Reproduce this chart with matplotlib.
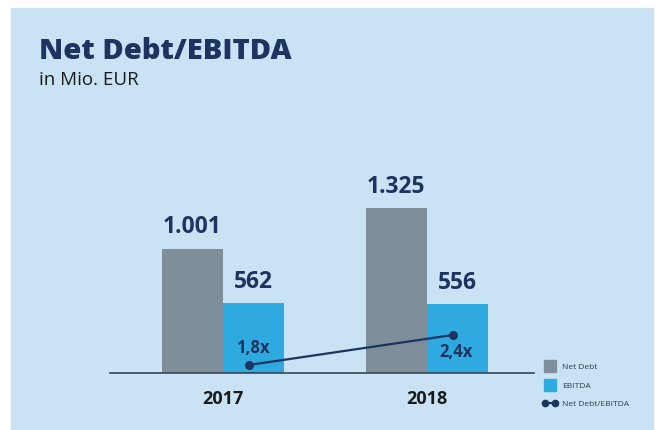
import matplotlib.pyplot as plt
from matplotlib.patches import Rectangle
from matplotlib.lines import Line2D
from matplotlib.legend_handler import HandlerLine2D
import numpy as np

plt.rcParams['font.family'] = ['Open Sans', 'DejaVu Sans']

years = ['2017', '2018']
net_debt = [1001, 1325]
ebitda = [562, 556]
ratio = [1.8, 2.4]
net_debt_labels = ['1.001', '1.325']
ebitda_labels = ['562', '556']
ratio_labels = ['1,8x', '2,4x']

c_bg = '#c9e3f4'
c_debt = '#7f8e9b'
c_ebitda = '#2eaae1'
c_navy = '#1d3461'

W, H = 659, 430
fig = plt.figure(figsize=(W / 100, H / 100), dpi=100)
fig.patch.set_facecolor('white')
fig.patches.append(Rectangle((11 / W, 0), (653 - 11) / W, (H - 8) / H,
                             transform=fig.transFigure, color=c_bg, zorder=-1))

fig.text(39 / W, 1 - 59 / H, 'Net Debt/EBITDA', fontsize=21, fontweight=800,
         color=c_navy, va='baseline', ha='left')
fig.text(39 / W, 1 - 85 / H, 'in Mio. EUR', fontsize=13.5, color='#1a1a1a',
         va='baseline', ha='left')

# axes placed so baseline sits at y=373 px, x from 110 to 534 px
ax_h = 224
ax = fig.add_axes([110 / W, (H - 373) / H, (534 - 110) / W, ax_h / H])
ax.set_facecolor('none')
x = np.arange(len(years))
w = 0.3
ax.bar(x - w / 2, net_debt, w, color=c_debt, zorder=2)
ax.bar(x + w / 2, ebitda, w, color=c_ebitda, zorder=2)
ax.set_xlim(-0.554, 1.525)
ymax = ax_h / 0.1243
ax.set_ylim(0, ymax)

for i in range(len(years)):
    ax.text(x[i] - w / 2, net_debt[i] + 170, net_debt_labels[i], ha='center', va='center',
            fontsize=16.5, fontweight='bold', color=c_navy)
    ax.text(x[i] + w / 2, ebitda[i] + 170, ebitda_labels[i], ha='center', va='center',
            fontsize=16.5, fontweight='bold', color=c_navy)

for s in ['top', 'right', 'left']:
    ax.spines[s].set_visible(False)
ax.spines['bottom'].set_color('#3a4654')
ax.spines['bottom'].set_linewidth(1.2)
ax.set_yticks([])
ax.set_xticks(x)
ax.set_xticklabels(years, fontsize=13, fontweight='bold', color='#1a1a1a')
ax.tick_params(axis='x', length=0, pad=12)

ax2 = ax.twinx()
ax2.set_ylim(1.64, 1.64 + ax_h / 50)
ax2.plot(x + 0.127, ratio, color=c_navy, lw=1.6, marker='o', ms=5.5, zorder=3)
ax2.text(x[0] + 0.147, 2.14, ratio_labels[0], ha='center', va='center',
         fontsize=12, fontweight='bold', color=c_navy)
ax2.text(x[1] + 0.142, 2.06, ratio_labels[1], ha='center', va='center',
         fontsize=12, fontweight='bold', color=c_navy)
ax2.axis('off')

h_debt = Line2D([], [], ls='none', marker='s', ms=8, color=c_debt, label='Net Debt')
h_ebitda = Line2D([], [], ls='none', marker='s', ms=8, color=c_ebitda, label='EBITDA')
h_ratio = Line2D([], [], color=c_navy, lw=1.6, marker='o', ms=4.5, label='Net Debt/EBITDA')
fig.legend(handles=[h_debt, h_ebitda, h_ratio], loc='upper left',
           bbox_to_anchor=(535 / W, 1 - 356 / H),
           frameon=False, fontsize=6, labelcolor='#2f3a46', handlelength=1.8,
           labelspacing=1.25, handletextpad=0.5,
           handler_map={h_debt: HandlerLine2D(numpoints=1),
                        h_ebitda: HandlerLine2D(numpoints=1),
                        h_ratio: HandlerLine2D(numpoints=2)})

fig.savefig('out.png', dpi=100)
